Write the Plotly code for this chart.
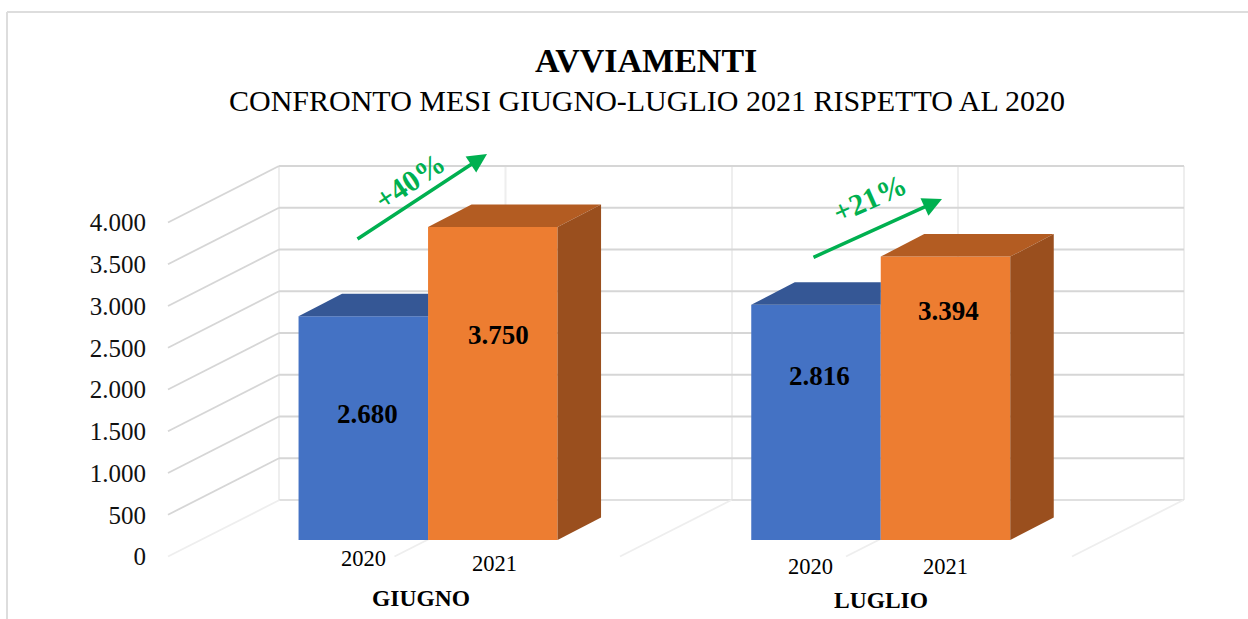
import plotly.graph_objects as go

# ---- data ----
MONTHS = ["GIUGNO", "LUGLIO"]
YEARS = ["2020", "2021"]
VALUES_2020 = [2680, 2816]
VALUES_2021 = [3750, 3394]
GROWTH = ["+40%", "+21%"]
TICKS = [0, 500, 1000, 1500, 2000, 2500, 3000, 3500, 4000]
TITLE = "AVVIAMENTI"
SUBTITLE = "CONFRONTO MESI GIUGNO-LUGLIO 2021 RISPETTO AL 2020"

# ---- geometry of the pseudo-3D scene (x axis unit = 1px, y axis in chart units) ----
W, H = 1248, 619
K = 0.0835            # px per unit
Y0 = 556.5            # px of the value 0 on the front plane
def val(px):          # value-axis coordinate of a pixel row
    return (Y0 - px) / K

BAR_W = 129.5
BAR_X_2020 = [363.3, 816.0]
BAR_X_2021 = [492.8, 945.5]
BAR_BASE = val(540)
BAR_DX, BAR_DY = 43.5, 22.5 / K
WALL_LEFT = [168, 620, 1072]
WALL_DX, WALL_DY = 111.5, 56.5 / K
WALL_X = [279, 505.5, 732, 958, 1184]
FONT = "Liberation Serif"
BLUE, BLUE_TOP = "#4472C4", "#355795"
ORANGE, ORANGE_TOP, ORANGE_SIDE = "#ED7D31", "#B35C22", "#9A4F1E"
GREEN = "#00B050"
GRID, GRID_LIGHT = "#D6D6D6", "#EEEEEE"

def fmt(v):
    return f"{v:,}".replace(",", ".")

fig = go.Figure()
shapes, ann = [], []

def line(x0, y0, x1, y1, color, width):
    shapes.append(dict(type="line", layer="below", xref="x", yref="y", x0=x0, y0=y0, x1=x1, y1=y1,
                       line=dict(color=color, width=width)))

# frame of the picture
shapes.append(dict(type="line", layer="below", xref="x", yref="y", x0=7, x1=W, y0=val(12), y1=val(12),
                   line=dict(color="#DDDDDD", width=2)))
shapes.append(dict(type="line", layer="below", xref="x", yref="y", x0=7, x1=7, y0=val(12), y1=val(H),
                   line=dict(color="#DDDDDD", width=2)))

# back wall and floor
top = TICKS[-1] + WALL_DY
for x in WALL_X:
    line(x, WALL_DY, x, top, GRID_LIGHT, 2)
for t in TICKS:
    line(WALL_X[0], t + WALL_DY, WALL_X[-1], t + WALL_DY, GRID if t else "#E0E0E0", 2.2)
    if t:
        line(WALL_LEFT[0], t, WALL_X[0], t + WALL_DY, GRID, 1.8)
for x in WALL_LEFT:
    line(x, 0, x + WALL_DX, WALL_DY, GRID_LIGHT, 1.8)
for x in (WALL_LEFT[0] + 226.5, WALL_LEFT[1] + 226):
    line(x, 0, x + WALL_DX, WALL_DY, GRID_LIGHT, 1.8)

# front faces
fig.add_trace(go.Bar(x=BAR_X_2020, y=VALUES_2020, base=BAR_BASE, width=BAR_W, name=YEARS[0],
                     marker=dict(color=BLUE, line=dict(width=0)), hoverinfo="y"))
fig.add_trace(go.Bar(x=BAR_X_2021, y=VALUES_2021, base=BAR_BASE, width=BAR_W, name=YEARS[1],
                     marker=dict(color=ORANGE, line=dict(width=0)), hoverinfo="y"))

def poly(xs, ys, color):
    fig.add_trace(go.Scatter(x=xs, y=ys, mode="lines", fill="toself", fillcolor=color,
                             line=dict(width=0), hoverinfo="skip", showlegend=False))

# depth faces derived from the values
for cx, v in zip(BAR_X_2020, VALUES_2020):
    l, r = cx - BAR_W / 2, cx + BAR_W / 2   # the part behind the orange bar is hidden
    t = BAR_BASE + v
    poly([l, l + BAR_DX, r, r], [t, t + BAR_DY, t + BAR_DY, t], BLUE_TOP)
for cx, v in zip(BAR_X_2021, VALUES_2021):
    l, r = cx - BAR_W / 2, cx + BAR_W / 2
    t = BAR_BASE + v
    poly([l, l + BAR_DX, r + BAR_DX, r], [t, t + BAR_DY, t + BAR_DY, t], ORANGE_TOP)
    poly([r, r + BAR_DX, r + BAR_DX, r],
         [t, t + BAR_DY, BAR_BASE + BAR_DY, BAR_BASE], ORANGE_SIDE)

def text(x, py, s, size, bold=False, color="black", angle=0):
    ann.append(dict(x=x, y=val(py), xref="x", yref="y", text=f"<b>{s}</b>" if bold else s,
                    showarrow=False, textangle=angle, xanchor="center", yanchor="middle",
                    font=dict(family=FONT, size=size, color=color)))

text(645.5, 60, TITLE, 34, bold=True)
text(646.5, 100, SUBTITLE, 30)

# data labels
for x, py, v in zip([367, 498.5, 819, 948.5], [414, 335, 376, 311],
                    [VALUES_2020[0], VALUES_2021[0], VALUES_2020[1], VALUES_2021[1]]):
    text(x, py, fmt(v), 27, bold=True)

# category labels
for x, py, s in zip([363, 494, 810, 945], [558, 563, 566, 566], YEARS * 2):
    text(x, py, s, 22.5)
for x, py, s in zip([421, 881], [598, 600], MONTHS):
    text(x, py, s, 23.5, bold=True)

# growth arrows and labels
for (x0, p0, x1, p1) in [(356, 240, 487, 154), (812, 258, 942, 199)]:
    ann.append(dict(x=x1, y=val(p1), ax=x0, ay=val(p0), xref="x", yref="y", axref="x", ayref="y",
                    text="", showarrow=True, arrowhead=2, arrowsize=1.1, arrowwidth=3.5, arrowcolor=GREEN))
text(409, 181, GROWTH[0], 30, bold=True, color=GREEN, angle=-34)
text(869, 198, GROWTH[1], 30, bold=True, color=GREEN, angle=-24)

fig.update_layout(
    width=W, height=H, margin=dict(l=0, r=0, t=0, b=0),
    paper_bgcolor="white", plot_bgcolor="white", showlegend=False, barmode="overlay",
    shapes=shapes, annotations=ann,
    xaxis=dict(range=[0, W], domain=[0, 1], visible=False, fixedrange=True),
    yaxis=dict(range=[val(H), val(0)], domain=[0, 1], anchor="free", position=146 / W, side="left",
               tickmode="array", tickvals=TICKS, ticktext=[fmt(t) for t in TICKS],
               showgrid=False, zeroline=False, showline=False, ticks="", fixedrange=True,
               tickfont=dict(family=FONT, size=25, color="#111111")),
)
fig.write_html("out.html", config=dict(displayModeBar=False),
               post_script="document.body.style.margin='0';")
